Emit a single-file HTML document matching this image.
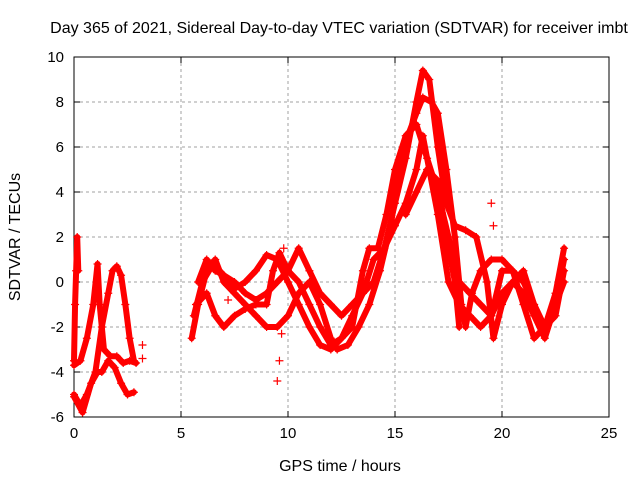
<!DOCTYPE html>
<html><head><meta charset="utf-8"><style>
body{margin:0;background:#fff;width:640px;height:480px;overflow:hidden}
svg text{font-family:"Liberation Sans",sans-serif;font-size:15px;fill:#000}
svg text.big{font-size:16px}
</style></head><body>
<svg id="chart" width="640" height="480" xmlns="http://www.w3.org/2000/svg">
<rect width="640" height="480" fill="#fff"/>
<text class="big" x="339" y="33" text-anchor="middle">Day 365 of 2021, Sidereal Day-to-day VTEC variation (SDTVAR) for receiver imbt</text>
<g id="grid"></g>
<g id="axes"></g>
<g id="marks"></g>
<text class="big" x="340" y="471" text-anchor="middle">GPS time / hours</text>
<text class="big" x="20" y="237" text-anchor="middle" transform="rotate(-90 20 237)">SDTVAR / TECUs</text>
</svg>
<script>
const xTicks=[0,5,10,15,20,25];
const yTicks=[-6,-4,-2,0,2,4,6,8,10];
const trackA1=[[0,-3.7],[0.3,-3.5],[0.6,-2.5],[0.9,-1],[1.1,0.8],[1.2,-1],[1.4,-3],[1.7,-3.3],[2,-3.3],[2.3,-3.6],[2.6,-3.5],[2.9,-3.6]];
const trackA2=[[0,-5],[0.3,-5.5],[0.6,-5],[1,-4],[1.3,-2],[1.6,-0.5],[1.8,0.5],[2,0.7],[2.2,0.3],[2.4,-1],[2.6,-2.5],[2.8,-3.5]];
const trackA3=[[0,-5.1],[0.4,-5.8],[0.8,-4.5],[1.1,-4],[1.3,-4],[1.6,-3.5],[1.9,-3.8],[2.2,-4.5],[2.5,-5],[2.8,-4.9]];
const trackA4=[[0,-3.5],[0.05,-1],[0.1,0.5],[0.15,2],[0.2,0.5]];
const trackB1=[[5.5,-2.5],[5.8,-1],[6.2,0.5],[6.6,1],[7,0],[7.5,-0.5],[8,-1],[8.5,-1.5],[9,-2],[9.5,-2],[10,-1.5],[10.5,-0.5],[11,0],[11.5,-1],[12,-2.5],[12.3,-3],[12.8,-2.8],[13.3,-2],[13.8,-1],[14.3,0.5],[14.8,2.5],[15.2,5],[15.6,6.5],[16,7.5],[16.3,8.2],[16.7,8],[17,7.5],[17.4,5],[17.8,2],[18.1,-1],[18.3,-2],[18.6,-0.5],[19,0.5],[19.5,1],[20,1],[20.5,0.5],[21,-1],[21.5,-2.5],[22,-2],[22.5,-0.5],[22.9,1.5]];
const trackB2=[[5.6,-1.5],[6,0],[6.5,0.8],[7,0.3],[7.5,0],[8,-0.5],[8.5,-0.8],[9,-0.5],[9.5,0],[10,0.5],[10.5,1.5],[11,0.5],[11.5,-0.5],[12,-1],[12.5,-1.5],[13,-1],[13.5,-0.5],[14,0],[14.5,1.5],[15,3.5],[15.5,5.5],[16,8],[16.3,9.4],[16.6,9],[17,6],[17.4,3.5],[17.8,2.5],[18.3,2.3],[18.8,2],[19.3,0],[19.6,-2.5],[20,-1],[20.5,0],[21,0.5],[21.5,-1],[22,-2],[22.5,-1],[22.9,1]];
const trackB3=[[5.7,-1],[6.2,-0.5],[6.6,-1.5],[7,-2],[7.5,-1.5],[8,-1.2],[8.5,-1],[9,-1],[9.3,0.5],[9.6,1.3],[10,0.5],[10.5,0],[11,-1],[11.5,-2],[12,-2.8],[12.5,-2.5],[13,-1.5],[13.5,-0.5],[14,1],[14.5,1.5],[15,2.5],[15.5,3.5],[16,5],[16.3,6.5],[16.6,5],[17,3],[17.5,0],[18,-1],[18.5,-1.5],[19,-2],[19.5,-1.5],[20,-0.5],[20.5,0],[21,-0.5],[21.5,-1.5],[22,-2.5],[22.5,-1],[22.9,0]];
const trackB4=[[5.8,0],[6.2,1],[6.6,0.5],[7,0.3],[7.5,-0.3],[8,0],[8.5,0.5],[9,1.2],[9.5,1],[10,0],[10.5,-1],[11,-2],[11.5,-2.8],[12,-3],[12.5,-2.5],[13,-2],[13.5,0.5],[13.8,1.5],[14.2,1.5],[14.6,3],[15,5],[15.5,6.5],[16,7],[16.5,5.5],[17,4],[17.5,2],[18,0],[18.5,-0.5],[19,-1],[19.5,-1.5],[20,0.5],[20.5,0.5],[21,0],[21.5,-1],[22,-2],[22.5,-1.5],[22.9,0.5]];
const trackB5=[[15.5,3],[16,4],[16.5,5],[17,4.5],[17.4,2],[17.8,0],[18,-2]];
const outliers=[[3.2,-2.8],[3.2,-3.4],[9.5,-4.4],[9.6,-3.5],[9.7,-2.3],[9.8,1.5],[19.5,3.5],[19.6,2.5],[7.2,-0.8]];
const tracks=[trackA1,trackA2,trackA3,trackA4,trackB1,trackB2,trackB3,trackB4,trackB5];
const L=74,R=609,T=57,B=417;
const xs=v=>L+(v-0)/(25-0)*(R-L);
const ys=v=>B-(v+6)/16*(B-T);
const NS="http://www.w3.org/2000/svg";
function mk(tag,attrs,parent){const e=document.createElementNS(NS,tag);for(const k in attrs)e.setAttribute(k,attrs[k]);parent.appendChild(e);return e;}
const grid=document.getElementById('grid'),axes=document.getElementById('axes'),marks=document.getElementById('marks');
xTicks.forEach(t=>{const x=xs(t);
 if(t>0&&t<25){const g=mk('line',{x1:x,x2:x,y1:T,y2:B,stroke:'#a0a0a0','stroke-dasharray':'3,3'},grid);}
 const l=mk('text',{x:x,y:B+21,'text-anchor':'middle'},axes);l.textContent=t;
 
 
 mk('line',{x1:x,x2:x,y1:B,y2:B-6,stroke:'#000'},axes);mk('line',{x1:x,x2:x,y1:T,y2:T+6,stroke:'#000'},axes);});
yTicks.forEach(t=>{const y=ys(t);
 if(t>-6&&t<10){const g=mk('line',{x1:L,x2:R,y1:y,y2:y,stroke:'#a0a0a0','stroke-dasharray':'3,3'},grid);}
 const l=mk('text',{x:L-10,y:y+5,'text-anchor':'end'},axes);l.textContent=t;
 
 
 mk('line',{x1:L,x2:L+6,y1:y,y2:y,stroke:'#000'},axes);mk('line',{x1:R,x2:R-6,y1:y,y2:y,stroke:'#000'},axes);});
mk('rect',{x:L,y:T,width:R-L,height:B-T,fill:'none',stroke:'#000'},axes);
function plus(x,y){const p=mk('path',{d:`M${x-4},${y}h8M${x},${y-4}v8`,stroke:'#f00','stroke-width':1.2},marks);}
tracks.forEach(tr=>{
 const pl=mk('polyline',{points:tr.map(p=>xs(p[0])+','+ys(p[1])).join(' '),fill:'none',stroke:'#f00','stroke-width':6,'stroke-linejoin':'round','stroke-linecap':'round'},marks);
 
 
 tr.forEach(p=>plus(xs(p[0]),ys(p[1])));
});
outliers.forEach(p=>plus(xs(p[0]),ys(p[1])));
</script>
</body></html>
